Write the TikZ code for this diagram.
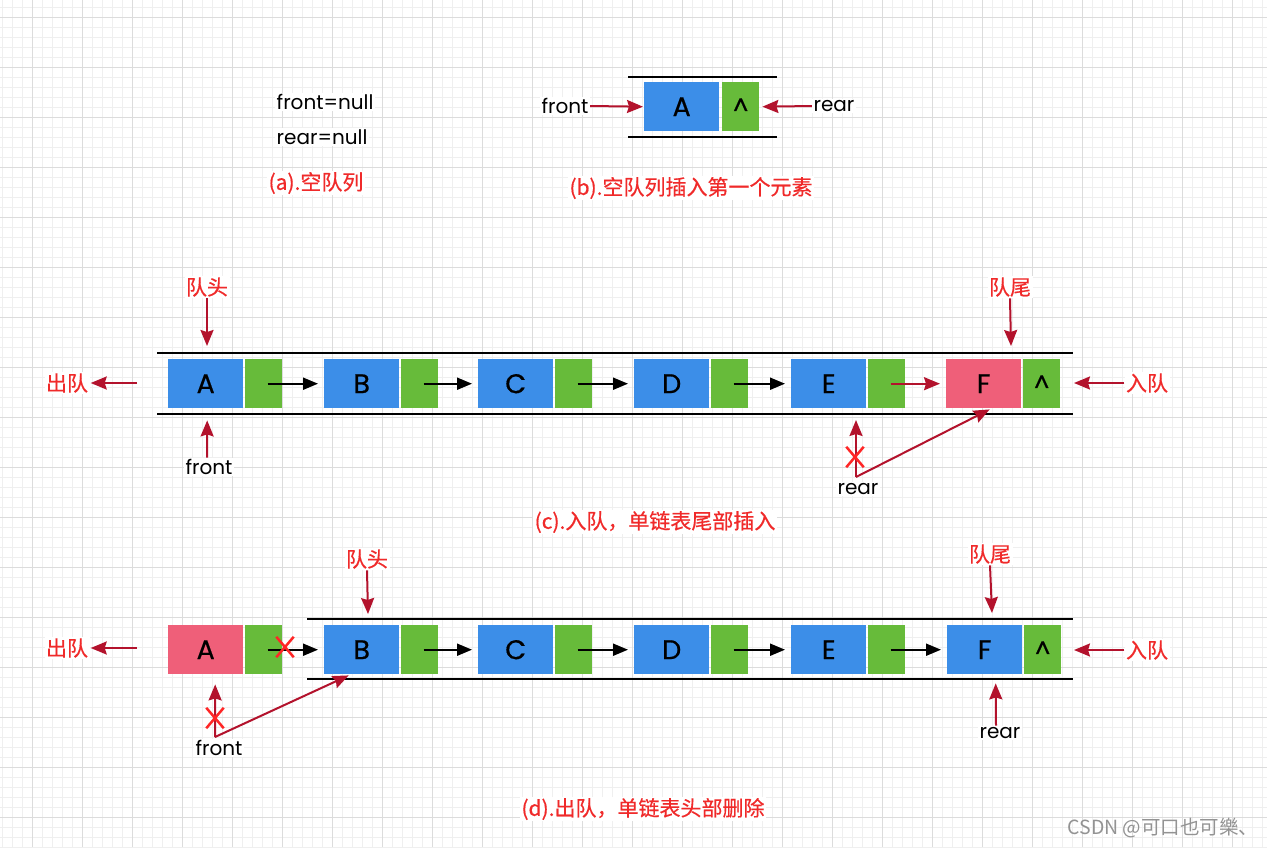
\documentclass[tikz,border=0pt]{standalone}
\usepackage{fontspec}
\setmainfont{Poppins}
\newfontfamily\cjk[FakeBold=0.5]{Noto Sans CJK SC}
\newfontfamily\cjkwm{Noto Sans CJK SC}
\newfontfamily\boxfont[FakeBold=0.6]{Poppins}
\usetikzlibrary{arrows.meta,shapes.misc}
\definecolor{qblue}{HTML}{3C8EE8}
\definecolor{qgreen}{HTML}{67BB3A}
\definecolor{qpink}{HTML}{EF5F79}
\definecolor{qdark}{HTML}{B3122C}
\definecolor{qlabel}{HTML}{F02A2A}
\definecolor{qx}{HTML}{FF2626}
\definecolor{gminor}{HTML}{EFEFEF}
\definecolor{gmajor}{HTML}{DCDCDC}
\begin{document}
\begin{tikzpicture}[x=1pt,y=-1pt,
  databox/.style={fill=qblue, minimum width=75pt, minimum height=49pt, inner sep=0pt, anchor=north west, font=\fontsize{27}{27}\boxfont},
  delbox/.style={databox, fill=qpink},
  ptrbox/.style={fill=qgreen, minimum width=37pt, minimum height=49pt, inner sep=0pt, anchor=north west, font=\fontsize{24}{24}\boxfont},
  tube/.style={line width=2pt, black},
  blk/.style={line width=2pt, black, -{Triangle[length=15pt,width=12pt]}},
  redarr/.style={line width=2pt, qdark, -{Stealth[length=16pt,width=13pt,inset=2pt]}},
  txt/.style={fill=white, inner sep=1.5pt, font=\fontsize{20}{20}\selectfont},
  cnlab/.style={fill=white, inner sep=1.5pt, text=qlabel, font=\fontsize{21}{21}\cjk},
  xmark/.style={cross out, draw=qx, line width=2.5pt, minimum width=15pt, minimum height=18pt, inner sep=0pt}
]
\useasboundingbox (0,0) rectangle (1267,847);
\fill[white] (0,0) rectangle (1267,847);
\foreach \x in {2,12,...,1262} \draw[gminor, line width=0.8pt] (\x,0) -- (\x,847);
\foreach \y in {7,17,...,847} \draw[gminor, line width=0.8pt] (0,\y) -- (1267,\y);
\foreach \x in {32,82,...,1262} \draw[gmajor, line width=0.8pt] (\x,0) -- (\x,847);
\foreach \y in {17,67,...,817} \draw[gmajor, line width=0.8pt] (0,\y) -- (1267,\y);

% ---------- (a)
\node[txt, anchor=west] (afront) at (275,102) {front=null};
\node[txt, anchor=west] (arear) at (275,137) {rear=null};
\node[cnlab] (alab) at (316,183) {(a).空队列};

% ---------- (b)
\coordinate (bl1) at (628,77); \coordinate (bl2) at (777,77);
\coordinate (bl3) at (628,137); \coordinate (bl4) at (777,137);
\draw[tube] (bl1) -- (bl2);
\draw[tube] (bl3) -- (bl4);
\node[databox] (bA) at (644,82) {A};
\node[ptrbox] (bAp) at (722,82) {\textasciicircum};
\node[txt] (bfront) at (565,106) {front};
\node[txt] (brear) at (834,106) {rear};
\draw[redarr] (bfront.east) -- ([xshift=-1]bA.west);
\draw[redarr] (brear.west) -- ([xshift=3]bAp.east);
\node[cnlab] (blab) at (691,188) {(b).空队列插入第一个元素};

% ---------- (c)
\coordinate (cl1) at (157,353); \coordinate (cl2) at (1073,353);
\coordinate (cl3) at (157,414); \coordinate (cl4) at (1073,414);
\draw[tube] (cl1) -- (cl2);
\draw[tube] (cl3) -- (cl4);
\node[databox] (cA) at (168,359) {A};
\node[ptrbox]  (cAp) at (245,359) {};
\node[databox] (cB) at (324,359) {B};
\node[ptrbox]  (cBp) at (401,359) {};
\node[databox] (cC) at (478,359) {C};
\node[ptrbox]  (cCp) at (555,359) {};
\node[databox] (cD) at (634,359) {D};
\node[ptrbox]  (cDp) at (711,359) {};
\node[databox] (cE) at (791,359) {E};
\node[ptrbox]  (cEp) at (868,359) {};
\node[delbox]  (cF) at (946,359) {F};
\node[ptrbox]  (cFp) at (1023,359) {\textasciicircum};
\draw[blk] ([xshift=4]cAp.center) -- ([xshift=-6]cB.west);
\draw[blk] ([xshift=4]cBp.center) -- ([xshift=-6]cC.west);
\draw[blk] ([xshift=4]cCp.center) -- ([xshift=-6]cD.west);
\draw[blk] ([xshift=4]cDp.center) -- ([xshift=-6]cE.west);
\draw[redarr] ([xshift=4]cEp.center) -- ([xshift=-6]cF.west);

\node[cnlab] (cHead) at (207,287) {队头};
\draw[redarr] (cHead.south) -- (207,346);
\node[txt] (cfront) at (209,467) {front};
\draw[redarr] ([xshift=-2]cfront.north) -- ([xshift=1.5,yshift=-12]cA.south);
\node[cnlab] (cOut) at (67,383) {出队};
\coordinate (cOutT) at (137,383);
\draw[redarr] (cOutT) -- ([xshift=1]cOut.east);
\node[cnlab] (cTail) at (1010,287) {队尾};
\draw[redarr] (cTail.south) -- (1011,346);
\node[cnlab] (cIn) at (1147,383) {入队};
\draw[redarr] (cIn.west) -- (1074,383);
\node[txt] (crear) at (858,489) {rear};
\coordinate (cRj) at (856,477);
\draw[redarr] (cRj) -- (856,420);
\draw[redarr] (cRj) -- ([xshift=6,yshift=-1]cF.south);
\node[xmark] (cX) at (855,457) {};
\node[cnlab] (clab) at (655,522) {(c).入队，单链表尾部插入};

% ---------- (d)
\coordinate (dl1) at (307,619); \coordinate (dl2) at (1073,619);
\coordinate (dl3) at (307,679); \coordinate (dl4) at (1073,679);
\draw[tube] (dl1) -- (dl2);
\draw[tube] (dl3) -- (dl4);
\node[delbox]  (dA) at (168,625) {A};
\node[ptrbox]  (dAp) at (245,625) {};
\node[databox] (dB) at (324,625) {B};
\node[ptrbox]  (dBp) at (401,625) {};
\node[databox] (dC) at (478,625) {C};
\node[ptrbox]  (dCp) at (555,625) {};
\node[databox] (dD) at (634,625) {D};
\node[ptrbox]  (dDp) at (711,625) {};
\node[databox] (dE) at (791,625) {E};
\node[ptrbox]  (dEp) at (868,625) {};
\node[databox] (dF) at (947,625) {F};
\node[ptrbox]  (dFp) at (1024,625) {\textasciicircum};
\draw[blk] ([xshift=4]dAp.center) -- ([xshift=-6]dB.west);
\draw[blk] ([xshift=4]dBp.center) -- ([xshift=-6]dC.west);
\draw[blk] ([xshift=4]dCp.center) -- ([xshift=-6]dD.west);
\draw[blk] ([xshift=4]dDp.center) -- ([xshift=-6]dE.west);
\draw[blk] ([xshift=4]dEp.center) -- ([xshift=-6]dF.west);
\node[xmark] (dX1) at (285,647) {};

\node[cnlab] (dHead) at (367,559) {队头};
\draw[redarr] (dHead.south) -- (368,614);
\node[cnlab] (dOut) at (67,648) {出队};
\coordinate (dOutT) at (137,648);
\draw[redarr] (dOutT) -- ([xshift=1]dOut.east);
\node[cnlab] (dTail) at (990,554) {队尾};
\draw[redarr] (dTail.south) -- (992,613);
\node[cnlab] (dIn) at (1147,650) {入队};
\draw[redarr] (dIn.west) -- (1074,650);
\node[txt] (drear) at (1000,733) {rear};
\draw[redarr] ([xshift=-4]drear.north) -- ([xshift=11,yshift=-9]dF.south);
\node[txt] (dfront) at (219,748) {front};
\coordinate (dFj) at (215,737);
\draw[redarr] (dFj) -- ([xshift=9.5,yshift=-10]dA.south);
\draw[redarr] (dFj) -- ([xshift=-13,yshift=-1]dB.south);
\node[xmark] (dX2) at (215,718) {};
\node[cnlab] (dlab) at (643,809) {(d).出队，单链表头部删除};

% watermark
\node[inner sep=0pt, text=gray!85, font=\fontsize{19.5}{19.5}\cjkwm] (wm) at (1163,828) {CSDN @可口也可樂、};
\end{tikzpicture}
\end{document}
